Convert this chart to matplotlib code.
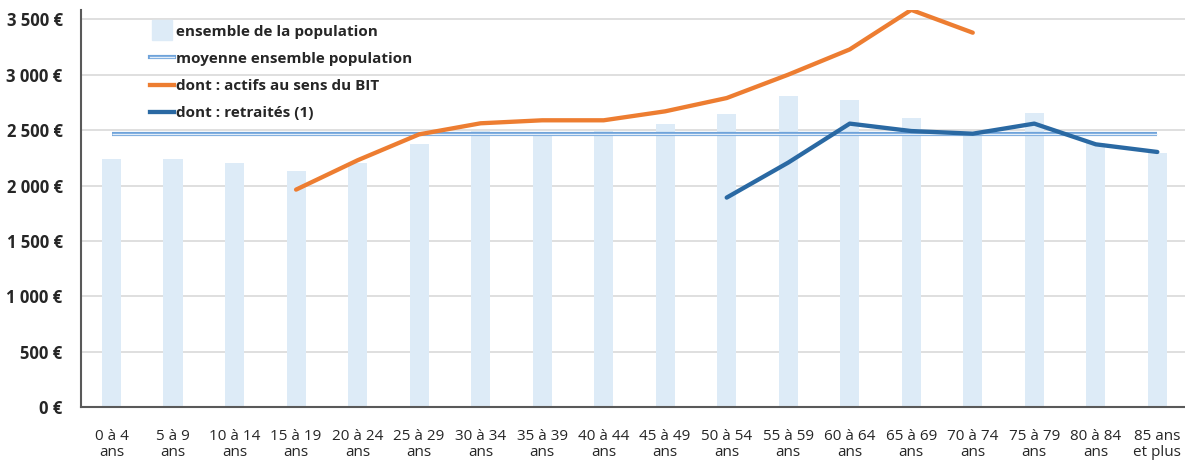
import numpy as np
import matplotlib
matplotlib.use("Agg")
import matplotlib.pyplot as plt
import matplotlib.patheffects as pe
from matplotlib.lines import Line2D
from matplotlib.ticker import FuncFormatter

categories = ["0 à 4\nans", "5 à 9\nans", "10 à 14\nans", "15 à 19\nans", "20 à 24\nans",
              "25 à 29\nans", "30 à 34\nans", "35 à 39\nans", "40 à 44\nans", "45 à 49\nans",
              "50 à 54\nans", "55 à 59\nans", "60 à 64\nans", "65 à 69\nans", "70 à 74\nans",
              "75 à 79\nans", "80 à 84\nans", "85 ans\net plus"]
ensemble = [2243, 2243, 2207, 2129, 2200, 2372, 2490, 2485, 2490, 2553,
            2643, 2805, 2771, 2610, 2474, 2652, 2380, 2291]
moyenne = 2462
actifs = [np.nan, np.nan, np.nan, 1963, 2228, 2462, 2562, 2589, 2589, 2670,
          2790, 3001, 3229, 3586, 3380, np.nan, np.nan, np.nan]
retraites = [np.nan] * 10 + [1891, 2207, 2559, 2492, 2468, 2559, 2372, 2303]
yticks = [0, 500, 1000, 1500, 2000, 2500, 3000, 3500]

labels = ["ensemble de la population", "moyenne ensemble population",
          "dont : actifs au sens du BIT", "dont : retraités (1)"]

plt.rcParams['font.family'] = ['Open Sans', 'DejaVu Sans']

W, H = 1185, 461
fig = plt.figure(figsize=(W / 100, H / 100), dpi=100)
ax = fig.add_axes([80.75 / W, 1 - 407 / H, 1 - 80.75 / W, 397 / H])

x = np.arange(len(categories))
bar_c = "#DDEBF7"
orange = "#ED7D31"
blue = "#2A69A3"
txt_c = "#262626"

ax.bar(x, ensemble, width=0.31, color=bar_c, zorder=2)
mean_fx = [pe.Stroke(linewidth=3.0, foreground="#6FA3DA"), pe.Normal()]
ax.plot(x, [moyenne] * len(x), color="#E3EEF9", lw=1.0, zorder=3,
        path_effects=mean_fx, solid_capstyle="butt")
ax.plot(x, actifs, color=orange, lw=3.1, zorder=4, solid_capstyle="round")
ax.plot(x, retraites, color=blue, lw=3.1, zorder=4, solid_capstyle="round")

ax.set_xlim(-0.5, 17.45)
ax.set_ylim(0, 3585)
ax.set_yticks(yticks)
ax.yaxis.set_major_formatter(FuncFormatter(lambda v, p: f"{int(v):,}".replace(",", " ") + " €"))
ax.set_xticks(x)
ax.set_xticklabels(categories, fontsize=11, color=txt_c, linespacing=1.1)
for t in ax.get_yticklabels():
    t.set_fontweight("bold")
    t.set_fontsize(12)
    t.set_color(txt_c)
ax.tick_params(axis="y", length=0, pad=13)
ax.tick_params(axis="x", length=0, pad=15.5)
ax.grid(axis="y", color="#D9D9D9", lw=1.2, zorder=0)
ax.set_axisbelow(True)
for s in ["top", "right"]:
    ax.spines[s].set_visible(False)
ax.spines["left"].set_color("#595959")
ax.spines["left"].set_linewidth(1.5)
ax.spines["bottom"].set_color("#595959")
ax.spines["bottom"].set_linewidth(1.5)

handles = [
    Line2D([], [], marker="s", markersize=14, color=bar_c, lw=0),
    Line2D([], [], color="#E3EEF9", lw=1.0, path_effects=mean_fx),
    Line2D([], [], color=orange, lw=3.1),
    Line2D([], [], color=blue, lw=3.1),
]
leg = fig.legend(handles, labels, loc="upper left", bbox_to_anchor=(142 / W, 1 - 17 / H),
                 frameon=False, borderpad=0, handlelength=1.62, handletextpad=0.12,
                 labelspacing=0.86, prop={"weight": "bold", "size": 11})
for t in leg.get_texts():
    t.set_color(txt_c)

fig.savefig("out.png", dpi=100)
